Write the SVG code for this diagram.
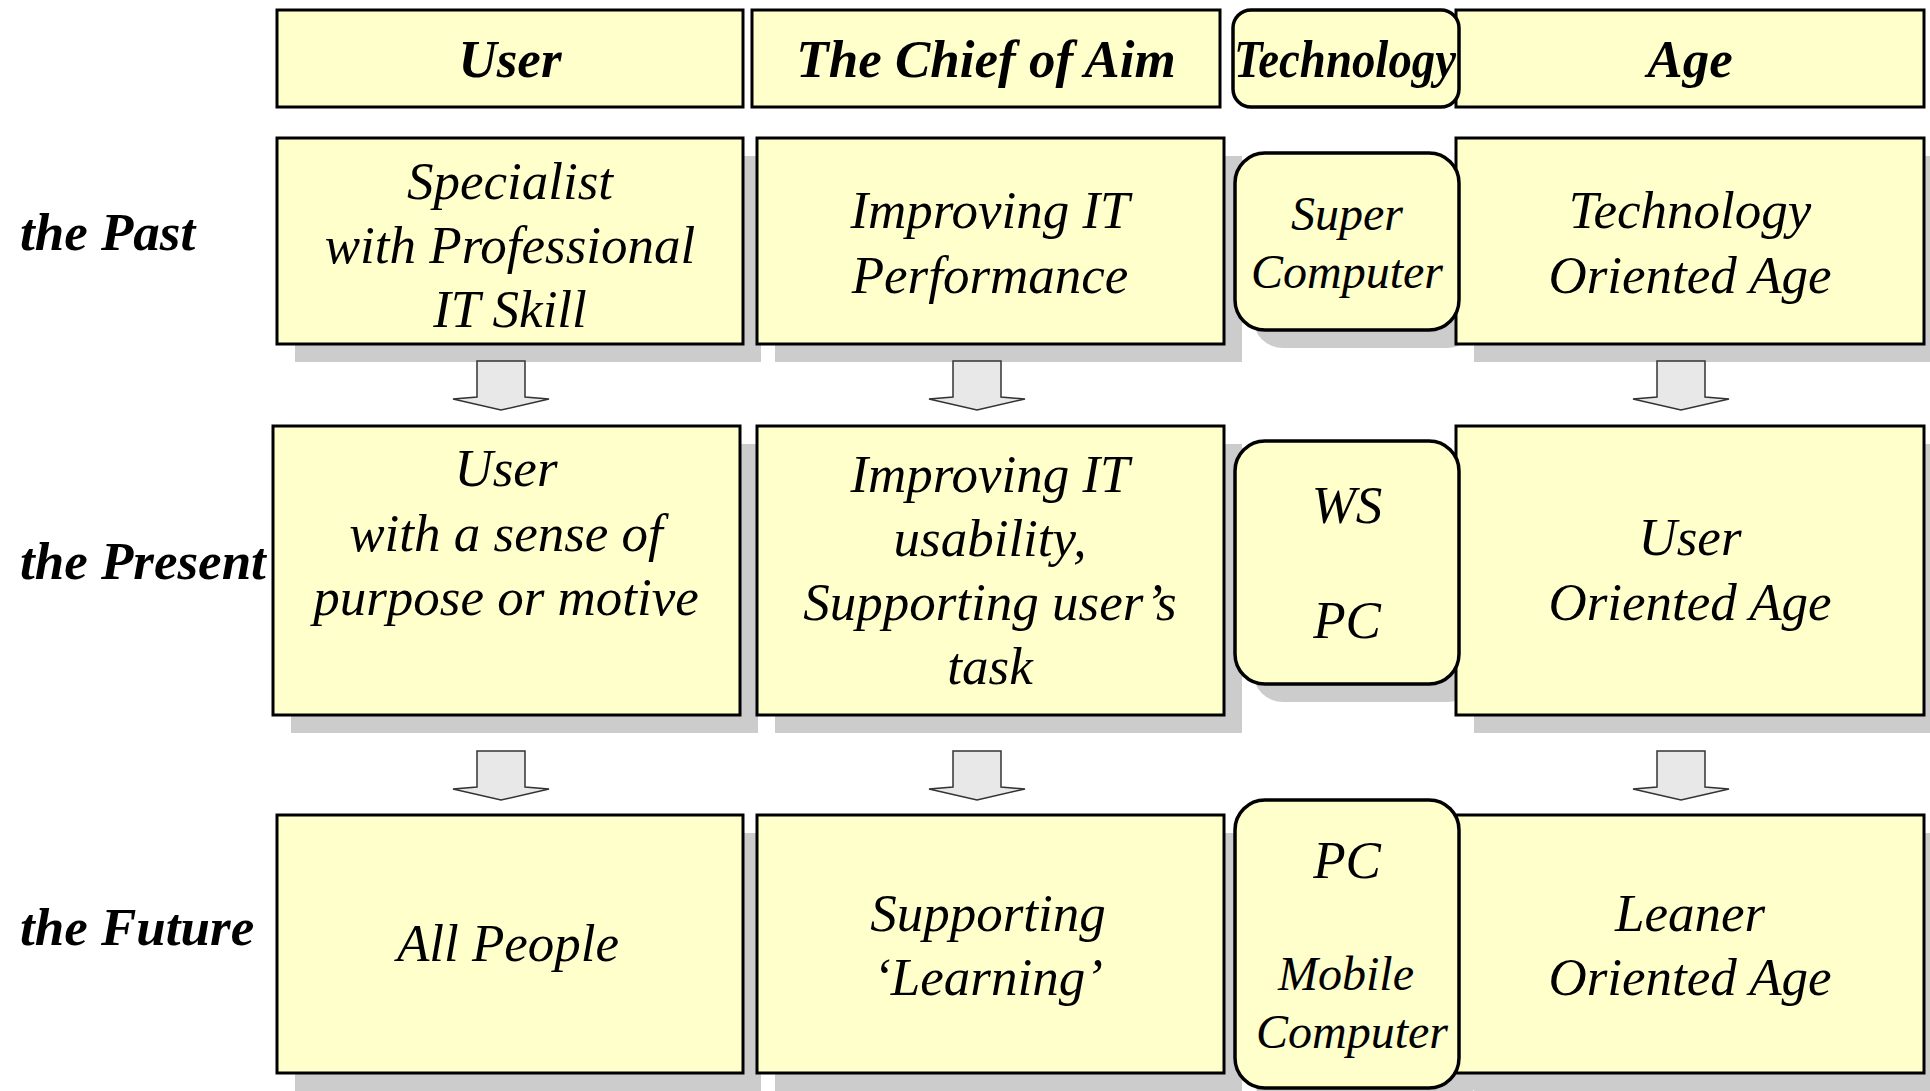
<svg xmlns="http://www.w3.org/2000/svg" width="1930" height="1091" viewBox="0 0 1930 1091">
<defs>
<style>
.box{fill:#ffffcc;stroke:#000;stroke-width:3}
.rbox{fill:#ffffcc;stroke:#000;stroke-width:3.5}
.sh{fill:#cccccc}
.arr{fill:#e8e8e8;stroke:#333;stroke-width:1.5;stroke-linejoin:miter}
text{font-family:"Liberation Serif","Times New Roman",serif;font-style:italic;fill:#000;text-anchor:middle}
.h{font-weight:bold;font-size:53px}
.lbl{font-weight:bold;font-size:53px;text-anchor:start}
.t{font-size:53px}
.s{font-size:48px}
</style>
</defs>
<rect width="1930" height="1091" fill="#fff"/>

<g id="shadows">
<rect class="sh" x="295" y="156" width="466" height="206"/>
<rect class="sh" x="775" y="156" width="467" height="206"/>
<rect class="sh" x="1253" y="171" width="224" height="177" rx="30"/>
<rect class="sh" x="1474" y="156" width="468" height="206"/>
<rect class="sh" x="291" y="444" width="467" height="289"/>
<rect class="sh" x="775" y="444" width="467" height="289"/>
<rect class="sh" x="1253" y="459" width="224" height="243" rx="30"/>
<rect class="sh" x="1474" y="444" width="468" height="289"/>
<rect class="sh" x="295" y="833" width="466" height="258"/>
<rect class="sh" x="775" y="833" width="467" height="258"/>
<rect class="sh" x="1253" y="818" width="224" height="288" rx="30"/>
<rect class="sh" x="1474" y="833" width="468" height="258"/>
</g>

<g id="h-user"><rect class="box" x="277" y="10" width="466" height="97"/><text class="h" x="510" y="77">User</text></g>
<g id="h-aim"><rect class="box" x="752" y="10" width="468" height="97"/><text class="h" x="986" y="77">The Chief of Aim</text></g>
<g id="h-age"><rect class="box" x="1456" y="10" width="468" height="97"/><text class="h" x="1690" y="77">Age</text></g>
<g id="h-tech"><rect class="rbox" x="1233" y="10" width="226" height="97" rx="18"/><text class="h" x="1345" y="77" textLength="222" lengthAdjust="spacingAndGlyphs">Technology</text></g>

<g id="l-past"><text class="lbl" x="20" y="250">the Past</text></g>
<g id="l-present"><text class="lbl" x="20" y="579">the Present</text></g>
<g id="l-future"><text class="lbl" x="20" y="945">the Future</text></g>

<g id="n-specialist"><rect class="box" x="277" y="138" width="466" height="206"/>
<text class="t" x="510" y="199">Specialist</text><text class="t" x="510" y="263">with Professional</text><text class="t" x="510" y="327">IT Skill</text></g>
<g id="n-perf"><rect class="box" x="757" y="138" width="467" height="206"/>
<text class="t" x="990" y="228">Improving IT</text><text class="t" x="990" y="293">Performance</text></g>
<g id="n-techage"><rect class="box" x="1456" y="138" width="468" height="206"/>
<text class="t" x="1690" y="228">Technology</text><text class="t" x="1690" y="293">Oriented Age</text></g>
<g id="n-super"><rect class="rbox" x="1235" y="153" width="224" height="177" rx="30"/>
<text class="s" x="1347" y="230">Super</text><text class="s" x="1347" y="288">Computer</text></g>

<g id="n-user"><rect class="box" x="273" y="426" width="467" height="289"/>
<text class="t" x="506" y="486">User</text><text class="t" x="506" y="551">with a sense of</text><text class="t" x="506" y="615">purpose or motive</text></g>
<g id="n-usab"><rect class="box" x="757" y="426" width="467" height="289"/>
<text class="t" x="990" y="492">Improving IT</text><text class="t" x="990" y="556">usability,</text><text class="t" x="990" y="620">Supporting user&#8217;s</text><text class="t" x="990" y="684">task</text></g>
<g id="n-userage"><rect class="box" x="1456" y="426" width="468" height="289"/>
<text class="t" x="1690" y="555">User</text><text class="t" x="1690" y="620">Oriented Age</text></g>
<g id="n-wspc"><rect class="rbox" x="1235" y="441" width="224" height="243" rx="30"/>
<text class="t" x="1347" y="523">WS</text><text class="t" x="1347" y="638">PC</text></g>

<g id="n-all"><rect class="box" x="277" y="815" width="466" height="258"/>
<text class="t" x="508" y="961">All People</text></g>
<g id="n-learn"><rect class="box" x="757" y="815" width="467" height="258"/>
<text class="t" x="988" y="931">Supporting</text><text class="t" x="988" y="995">&#8216;Learning&#8217;</text></g>
<g id="n-leaner"><rect class="box" x="1456" y="815" width="468" height="258"/>
<text class="t" x="1690" y="931">Leaner</text><text class="t" x="1690" y="995">Oriented Age</text></g>
<g id="n-mobile"><rect class="rbox" x="1235" y="800" width="224" height="288" rx="30"/>
<text class="t" x="1347" y="878">PC</text><text class="s" x="1346" y="990">Mobile</text><text class="s" x="1352" y="1048">Computer</text></g>

<g id="connectors">
<polygon class="arr" points="477,361 525,361 525,397 549,399 501,410 453,399 477,397"/>
<polygon class="arr" points="953,361 1001,361 1001,397 1025,399 977,410 929,399 953,397"/>
<polygon class="arr" points="1657,361 1705,361 1705,397 1729,399 1681,410 1633,399 1657,397"/>
<polygon class="arr" points="477,751 525,751 525,787 549,789 501,800 453,789 477,787"/>
<polygon class="arr" points="953,751 1001,751 1001,787 1025,789 977,800 929,789 953,787"/>
<polygon class="arr" points="1657,751 1705,751 1705,787 1729,789 1681,800 1633,789 1657,787"/>
</g>
</svg>
